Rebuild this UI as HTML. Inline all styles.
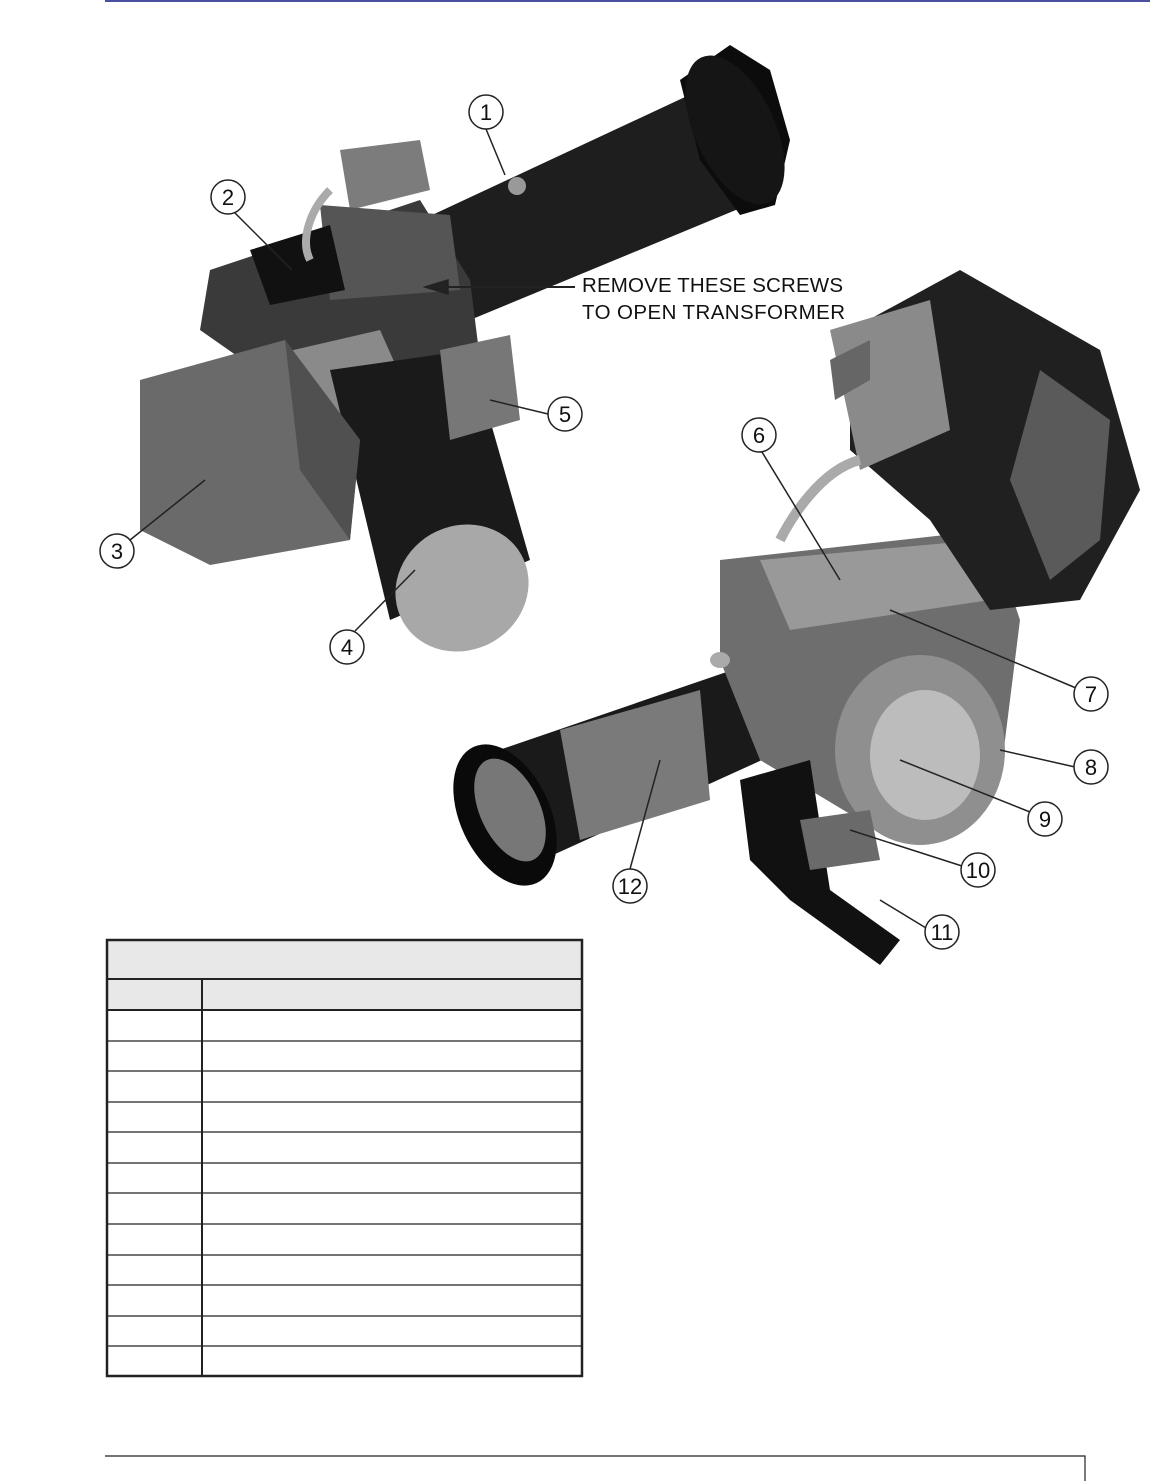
<!DOCTYPE html>
<html><head><meta charset="utf-8"><style>
body{margin:0;background:#fff;width:1150px;height:1481px;overflow:hidden;position:relative;font-family:"Liberation Sans",sans-serif}
</style></head><body>
<svg width="1150" height="1481" style="position:absolute;left:0;top:0">
<line x1="105" y1="1" x2="1150" y2="1" stroke="#4a4fa0" stroke-width="2"/>
<!-- upper burner -->
<g>
<polygon points="400,230 700,90 760,200 470,320" fill="#1e1e1e"/>
<polygon points="680,80 730,45 770,70 790,140 775,205 740,215 700,160" fill="#0c0c0c"/>
<ellipse cx="735" cy="130" rx="40" ry="80" transform="rotate(-25 735 130)" fill="#151515"/>
<polygon points="340,150 420,140 430,190 350,210" fill="#7c7c7c"/>
<polygon points="210,270 420,200 470,280 480,360 300,400 200,330" fill="#3a3a3a"/>
<polygon points="320,205 450,215 460,290 330,300" fill="#555"/>
<polygon points="250,250 330,225 345,290 270,305" fill="#111"/>
<polygon points="250,360 380,330 420,420 300,460" fill="#8a8a8a"/>
<polygon points="330,370 470,350 530,560 390,620" fill="#1a1a1a"/>
<ellipse cx="462" cy="588" rx="68" ry="62" transform="rotate(-30 462 588)" fill="#a8a8a8"/>
<polygon points="140,380 285,340 360,440 350,540 210,565 140,530" fill="#6a6a6a"/>
<polygon points="285,340 360,440 350,540 300,470" fill="#505050"/>
<polygon points="440,350 510,335 520,420 450,440" fill="#777"/>
<path d="M330,190 C310,210 300,240 310,260" stroke="#aaa" stroke-width="8" fill="none"/>
<circle cx="517" cy="186" r="9" fill="#999"/>
</g>
<!-- lower burner -->
<g>
<polygon points="470,760 820,640 850,720 520,870" fill="#1a1a1a"/>
<ellipse cx="505" cy="815" rx="45" ry="75" transform="rotate(-25 505 815)" fill="#0a0a0a"/>
<ellipse cx="510" cy="810" rx="30" ry="55" transform="rotate(-25 510 810)" fill="#777"/>
<polygon points="560,730 700,690 710,800 580,840" fill="#7a7a7a"/>
<polygon points="720,560 990,530 1020,620 1000,780 860,820 760,760 720,660" fill="#6e6e6e"/>
<polygon points="760,560 980,540 990,600 790,630" fill="#999"/>
<ellipse cx="920" cy="750" rx="85" ry="95" fill="#8f8f8f"/>
<ellipse cx="925" cy="755" rx="55" ry="65" fill="#bcbcbc"/>
<polygon points="850,330 960,270 1100,350 1140,490 1080,600 990,610 930,520 850,450" fill="#202020"/>
<polygon points="1040,370 1110,420 1100,540 1050,580 1010,480" fill="#5a5a5a"/>
<polygon points="830,330 930,300 950,430 860,470" fill="#8a8a8a"/>
<polygon points="740,780 810,760 830,890 900,940 880,965 790,900 750,860" fill="#111"/>
<polygon points="800,820 870,810 880,860 810,870" fill="#6a6a6a"/>
<polygon points="830,360 870,340 870,380 835,400" fill="#666"/>
<path d="M860,460 C820,470 790,520 780,540" stroke="#aaa" stroke-width="10" fill="none"/>
<ellipse cx="720" cy="660" rx="10" ry="8" fill="#aaa"/>
</g>
<!-- callouts -->
<g stroke="#222" stroke-width="1.5" fill="#fff">
<line x1="486" y1="129" x2="505" y2="175"/>
<line x1="235" y1="213" x2="292" y2="270"/>
<line x1="130" y1="540" x2="205" y2="480"/>
<line x1="355" y1="631" x2="415" y2="570"/>
<line x1="548" y1="414" x2="490" y2="400"/>
<line x1="762" y1="452" x2="840" y2="580"/>
<line x1="1076" y1="688" x2="890" y2="610"/>
<line x1="1075" y1="767" x2="1000" y2="750"/>
<line x1="1030" y1="812" x2="900" y2="760"/>
<line x1="962" y1="866" x2="850" y2="830"/>
<line x1="926" y1="928" x2="880" y2="900"/>
<line x1="630" y1="869" x2="660" y2="760"/>
<line x1="575" y1="287" x2="440" y2="287" stroke-width="2"/>
<polygon points="425,287 448,280 448,294" fill="#222"/>
</g>
<g fill="#fff" stroke="#222" stroke-width="1.5">
<circle cx="486" cy="112" r="17"/><circle cx="228" cy="197" r="17"/><circle cx="117" cy="551" r="17"/><circle cx="347" cy="647" r="17"/><circle cx="565" cy="414" r="17"/><circle cx="759" cy="435" r="17"/><circle cx="1091" cy="694" r="17"/><circle cx="1091" cy="767" r="17"/><circle cx="1045" cy="819" r="17"/><circle cx="978" cy="870" r="17"/><circle cx="942" cy="932" r="17"/><circle cx="630" cy="886" r="17"/>
</g>
<g font-family="Liberation Sans" font-size="22" fill="#111" text-anchor="middle">
<text x="486" y="120">1</text><text x="228" y="205">2</text><text x="117" y="559">3</text><text x="347" y="655">4</text><text x="565" y="422">5</text><text x="759" y="443">6</text><text x="1091" y="702">7</text><text x="1091" y="775">8</text><text x="1045" y="827">9</text><text x="978" y="878">10</text><text x="942" y="940">11</text><text x="630" y="894">12</text>
</g>
<g font-family="Liberation Sans" font-size="20.5" fill="#111">
<text x="582" y="292" textLength="261">REMOVE THESE SCREWS</text>
<text x="582" y="319" textLength="263">TO OPEN TRANSFORMER</text>
</g>
<!-- table -->
<rect x="107" y="940" width="475" height="70" fill="#e8e8e8"/>
<g stroke="#222" fill="none">
<rect x="107" y="940" width="475" height="436" stroke-width="2.5"/>
<line x1="107" y1="979" x2="582" y2="979" stroke-width="2"/>
<line x1="107" y1="1010" x2="582" y2="1010" stroke-width="2"/>
<line x1="202" y1="979" x2="202" y2="1376" stroke-width="2"/>
<g stroke-width="1.2">
<line x1="107" y1="1041" x2="582" y2="1041"/><line x1="107" y1="1071" x2="582" y2="1071"/><line x1="107" y1="1102" x2="582" y2="1102"/><line x1="107" y1="1132" x2="582" y2="1132"/><line x1="107" y1="1163" x2="582" y2="1163"/><line x1="107" y1="1193" x2="582" y2="1193"/><line x1="107" y1="1224" x2="582" y2="1224"/><line x1="107" y1="1255" x2="582" y2="1255"/><line x1="107" y1="1285" x2="582" y2="1285"/><line x1="107" y1="1316" x2="582" y2="1316"/><line x1="107" y1="1346" x2="582" y2="1346"/>
</g>
<polyline points="105,1456 1085,1456 1085,1481" stroke-width="1.2"/>
</g>
</svg>
</body></html>
